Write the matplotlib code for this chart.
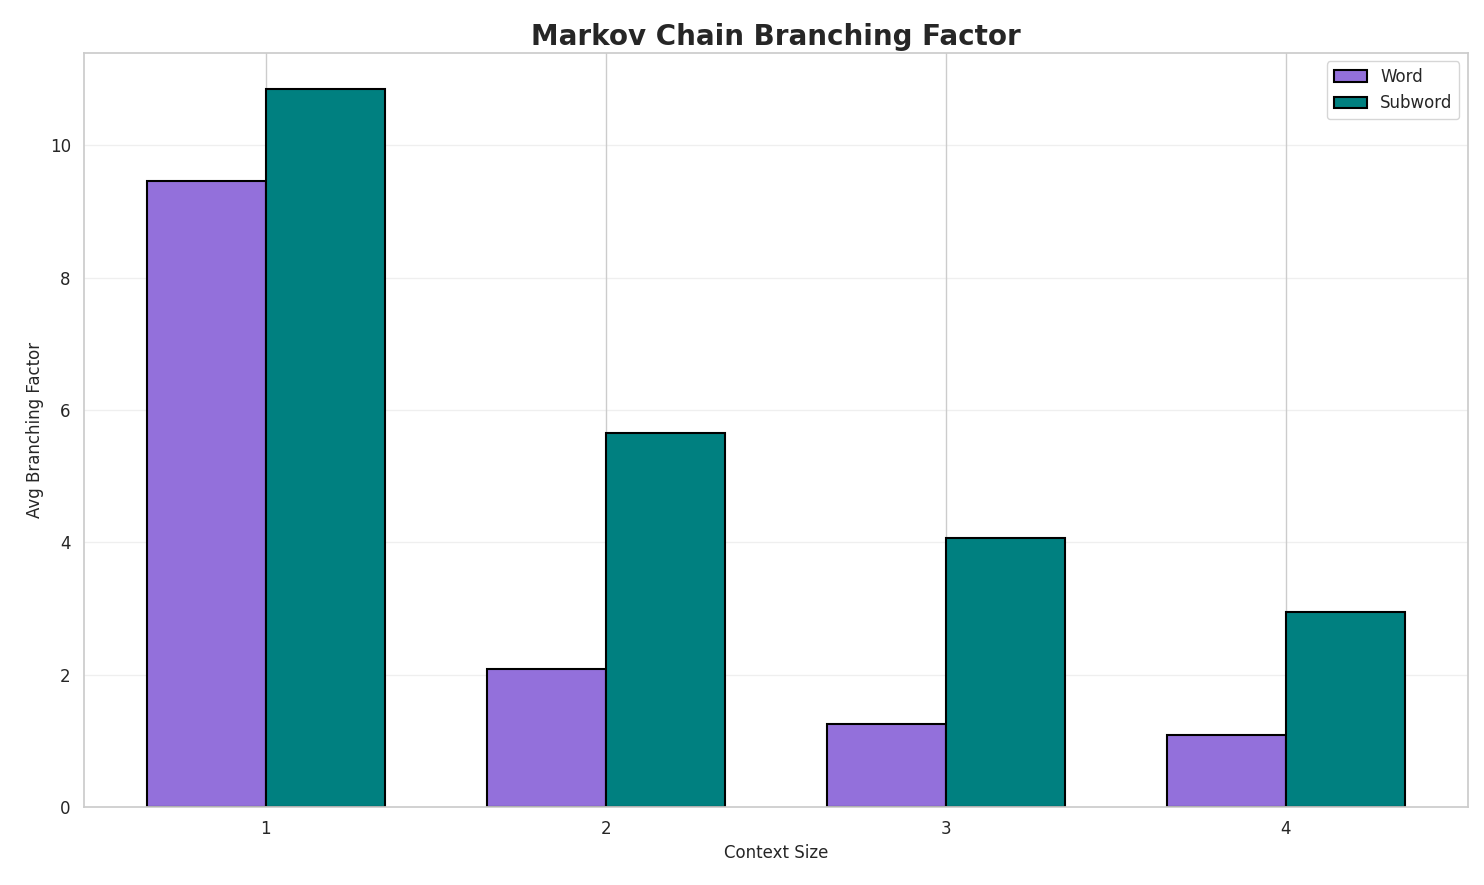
import matplotlib
matplotlib.use("Agg")
import matplotlib.pyplot as plt
import seaborn as sns
import numpy as np

sns.set_theme(style="whitegrid")
plt.rcParams['font.family'] = ['DejaVu Sans']

contexts = [1, 2, 3, 4]
word = [9.46, 2.08, 1.25, 1.09]
subword = [10.85, 5.65, 4.06, 2.95]

fig = plt.figure(figsize=(14.84, 8.85), dpi=100)
ax = fig.add_axes([0.0566, 0.088, 0.9324, 0.852])
x = np.array(contexts)
w = 0.35
ax.bar(x - w/2, word, w, label='Word', color='mediumpurple', edgecolor='black', linewidth=1.5)
ax.bar(x + w/2, subword, w, label='Subword', color='teal', edgecolor='black', linewidth=1.5)
ax.set_xticks(x)
ax.set_xticklabels([str(c) for c in contexts])
ax.tick_params(labelsize=12)
ax.set_xlabel('Context Size', fontsize=12)
ax.set_ylabel('Avg Branching Factor', fontsize=12)
ax.set_title('Markov Chain Branching Factor', fontsize=20, fontweight='bold')
ax.grid(axis='y', alpha=0.3)
ax.legend(fontsize=12, loc='upper right')
fig.savefig('out.png', dpi=100)
